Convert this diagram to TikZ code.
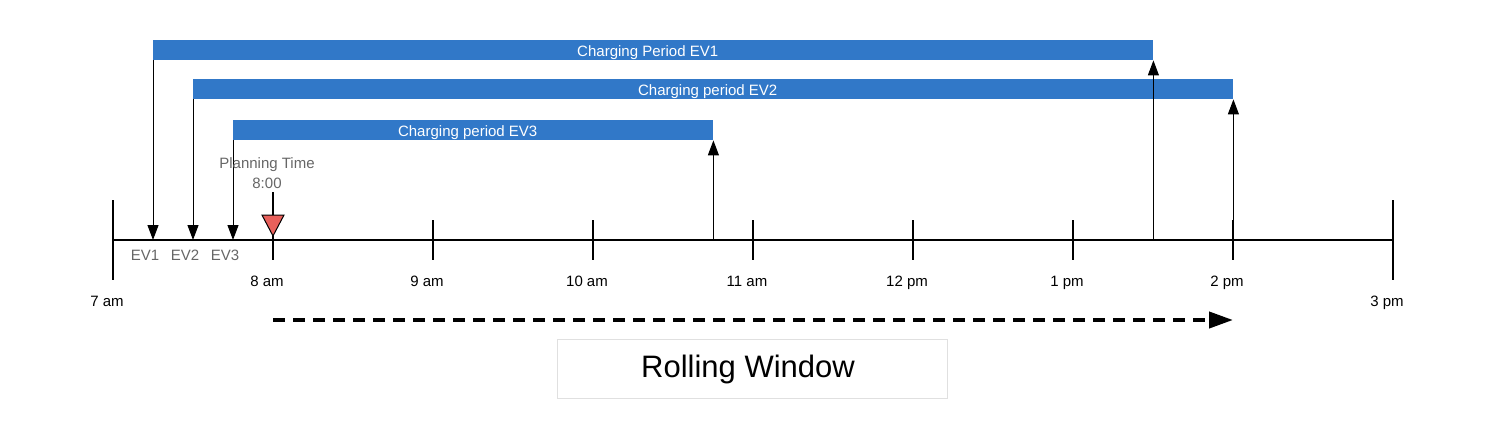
\documentclass[tikz,border=0pt]{standalone}
\usepackage{fontspec}
\setmainfont{Liberation Sans}
\usepackage{xcolor}
\usetikzlibrary{arrows.meta,positioning,calc}
\definecolor{barblue}{HTML}{3178C8}
\definecolor{markred}{HTML}{E8605B}
\definecolor{labelgray}{HTML}{666666}
\definecolor{boxgray}{HTML}{E0E0E0}

\begin{document}
\begin{tikzpicture}[
  x=1pt,y=-1pt,
  font=\fontsize{15}{18}\selectfont,
  lbl/.style={text height=11pt,text depth=3pt},
  bar/.style={fill=barblue,text=white,inner sep=0pt,minimum height=20pt,anchor=north west,
              text height=13pt,text depth=1pt},
  evlabel/.style={lbl,text=labelgray},
  hourtick/.style={line width=2pt},
  arr/.style={-{Triangle[length=15pt,width=11pt]},line width=1pt},
  rollarr/.style={-{Triangle[length=24pt,width=16pt]},line width=4pt,dash pattern=on 12pt off 8pt}
]
\useasboundingbox (0,0) rectangle (1494,440);
% time axis
\foreach \i in {0,...,8}
  \coordinate (t\i) at (113+160*\i,240);
\draw[line width=2pt] (t0) -- (t8);
\draw[hourtick] ($(t0)+(0,-40)$) -- ($(t0)+(0,40)$);
\draw[hourtick] ($(t8)+(0,-40)$) -- ($(t8)+(0,40)$);
\node[lbl] (h0) at ($(t0)+(-6,62)$) {7 am};
\node[lbl] (h8) at ($(t8)+(-6,62)$) {3 pm};
\foreach \i/\lab in {1/8 am,2/9 am,3/10 am,4/11 am,5/12 pm,6/1 pm,7/2 pm} {
  \draw[hourtick] ($(t\i)+(0,-20)$) -- ($(t\i)+(0,20)$);
  \node[lbl] (h\i) at ($(t\i)+(-6,42)$) {\lab};
}
% charging periods
\node[bar,minimum width=1000pt] (ev1) at (153,40) {Charging Period EV1\hspace*{11pt}};
\node[bar,minimum width=1040pt] (ev2) at (193,79) {Charging period EV2\hspace*{11pt}};
\node[bar,minimum width=480pt] (ev3) at (233,120) {Charging period EV3\hspace*{11pt}};
\foreach \ev in {ev1,ev2,ev3} {
  \draw[arr] (\ev.south west) -- (\ev.south west |- t0);
  \draw[arr] (\ev.south east |- t0) -- (\ev.south east);
}
\node[evlabel] (a1) at (145,256) {EV1};
\node[evlabel] (a2) at (185,256) {EV2};
\node[evlabel] (a3) at (225,256) {EV3};
% planning time
\coordinate (plan) at (273,192);
\draw[line width=2pt] (plan) -- (t1);
\draw[fill=markred,line width=1pt] (262,215) -- (284,215) -- (273,236) -- cycle;
\node[evlabel] (pt8) at (267,184) {8:00};
\node[evlabel,above=-2pt of pt8] (pt) {Planning Time};
% rolling window
\coordinate (rw0) at ($(t1)+(0,80)$);
\coordinate (rw1) at ($(t7)+(0,80)$);
\draw[rollarr] (rw0) -- (rw1);
\node[draw=boxgray,line width=0.6pt,minimum width=390pt,minimum height=59pt,
  font=\fontsize{31}{36}\selectfont] (rw) at (752,369) {Rolling Window\hspace*{8pt}};
\end{tikzpicture}
\end{document}
